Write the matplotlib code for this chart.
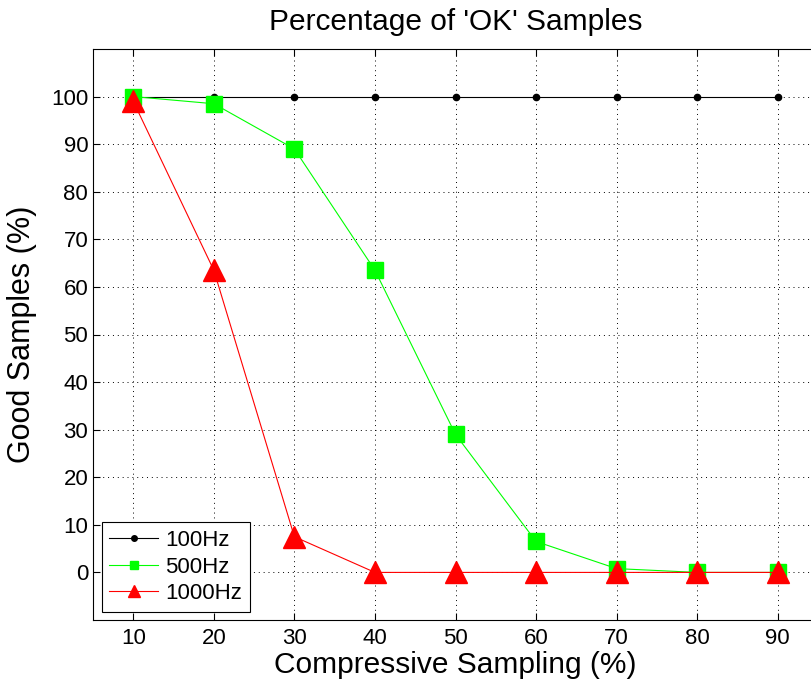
import numpy as np
import matplotlib.pyplot as plt

plt.rcParams['font.family'] = ['Liberation Sans', 'DejaVu Sans']

# data
cs = [10, 20, 30, 40, 50, 60, 70, 80, 90]
ok_100hz = [100, 100, 100, 100, 100, 100, 100, 100, 100]
ok_500hz = [100, 98.5, 89, 63.5, 29, 6.5, 0.8, 0, 0]
ok_1000hz = [99, 63.5, 7.5, 0, 0, 0, 0, 0, 0]

W, H = 812, 687
fig = plt.figure(figsize=(W / 100, H / 100), dpi=100)
ax = fig.add_axes([93 / W, 1 - 620 / H, (818 - 93) / W, (620 - 49) / H])

ax.plot(cs, ok_100hz, 'k.-', lw=0.8, ms=9, label='100Hz')
ax.plot(cs, ok_500hz, '-s', color=(0, 1, 0), mfc=(0, 1, 0), mec=(0, 1, 0),
        lw=0.8, ms=12, label='500Hz')
ax.plot(cs, ok_1000hz, '-^', color=(1, 0, 0), mfc=(1, 0, 0), mec=(1, 0, 0),
        lw=0.8, ms=16, label='1000Hz')

ax.set_xlim(5, 95)
ax.set_ylim(-10, 110)
ax.set_xticks(cs)
ax.set_yticks(np.arange(0, 101, 10))
ax.grid(True, color='k', linestyle=(0, (1, 4)), linewidth=0.7)
ax.tick_params(direction='in', top=True, right=True, labelsize=16, length=5)
ax.tick_params(axis='x', pad=6)
for s in ax.spines.values():
    s.set_linewidth(0.8)

ax.set_xlabel('Compressive Sampling (%)', fontsize=21.5, labelpad=1)
ax.set_ylabel('Good Samples (%)', fontsize=22, labelpad=10)
ax.set_title("Percentage of 'OK' Samples", fontsize=21.5, pad=14)

leg = ax.legend(loc='lower left', bbox_to_anchor=(0.012, 0.014), fontsize=16,
                frameon=True, fancybox=False, edgecolor='k', framealpha=1,
                handlelength=2.2, borderpad=0.35, labelspacing=0.25,
                handletextpad=0.3, borderaxespad=0)
leg.get_frame().set_linewidth(0.8)
for h, m in zip(leg.legend_handles, [8, 6, 9]):
    h.set_markersize(m)

fig.savefig('out.png', dpi=100)
